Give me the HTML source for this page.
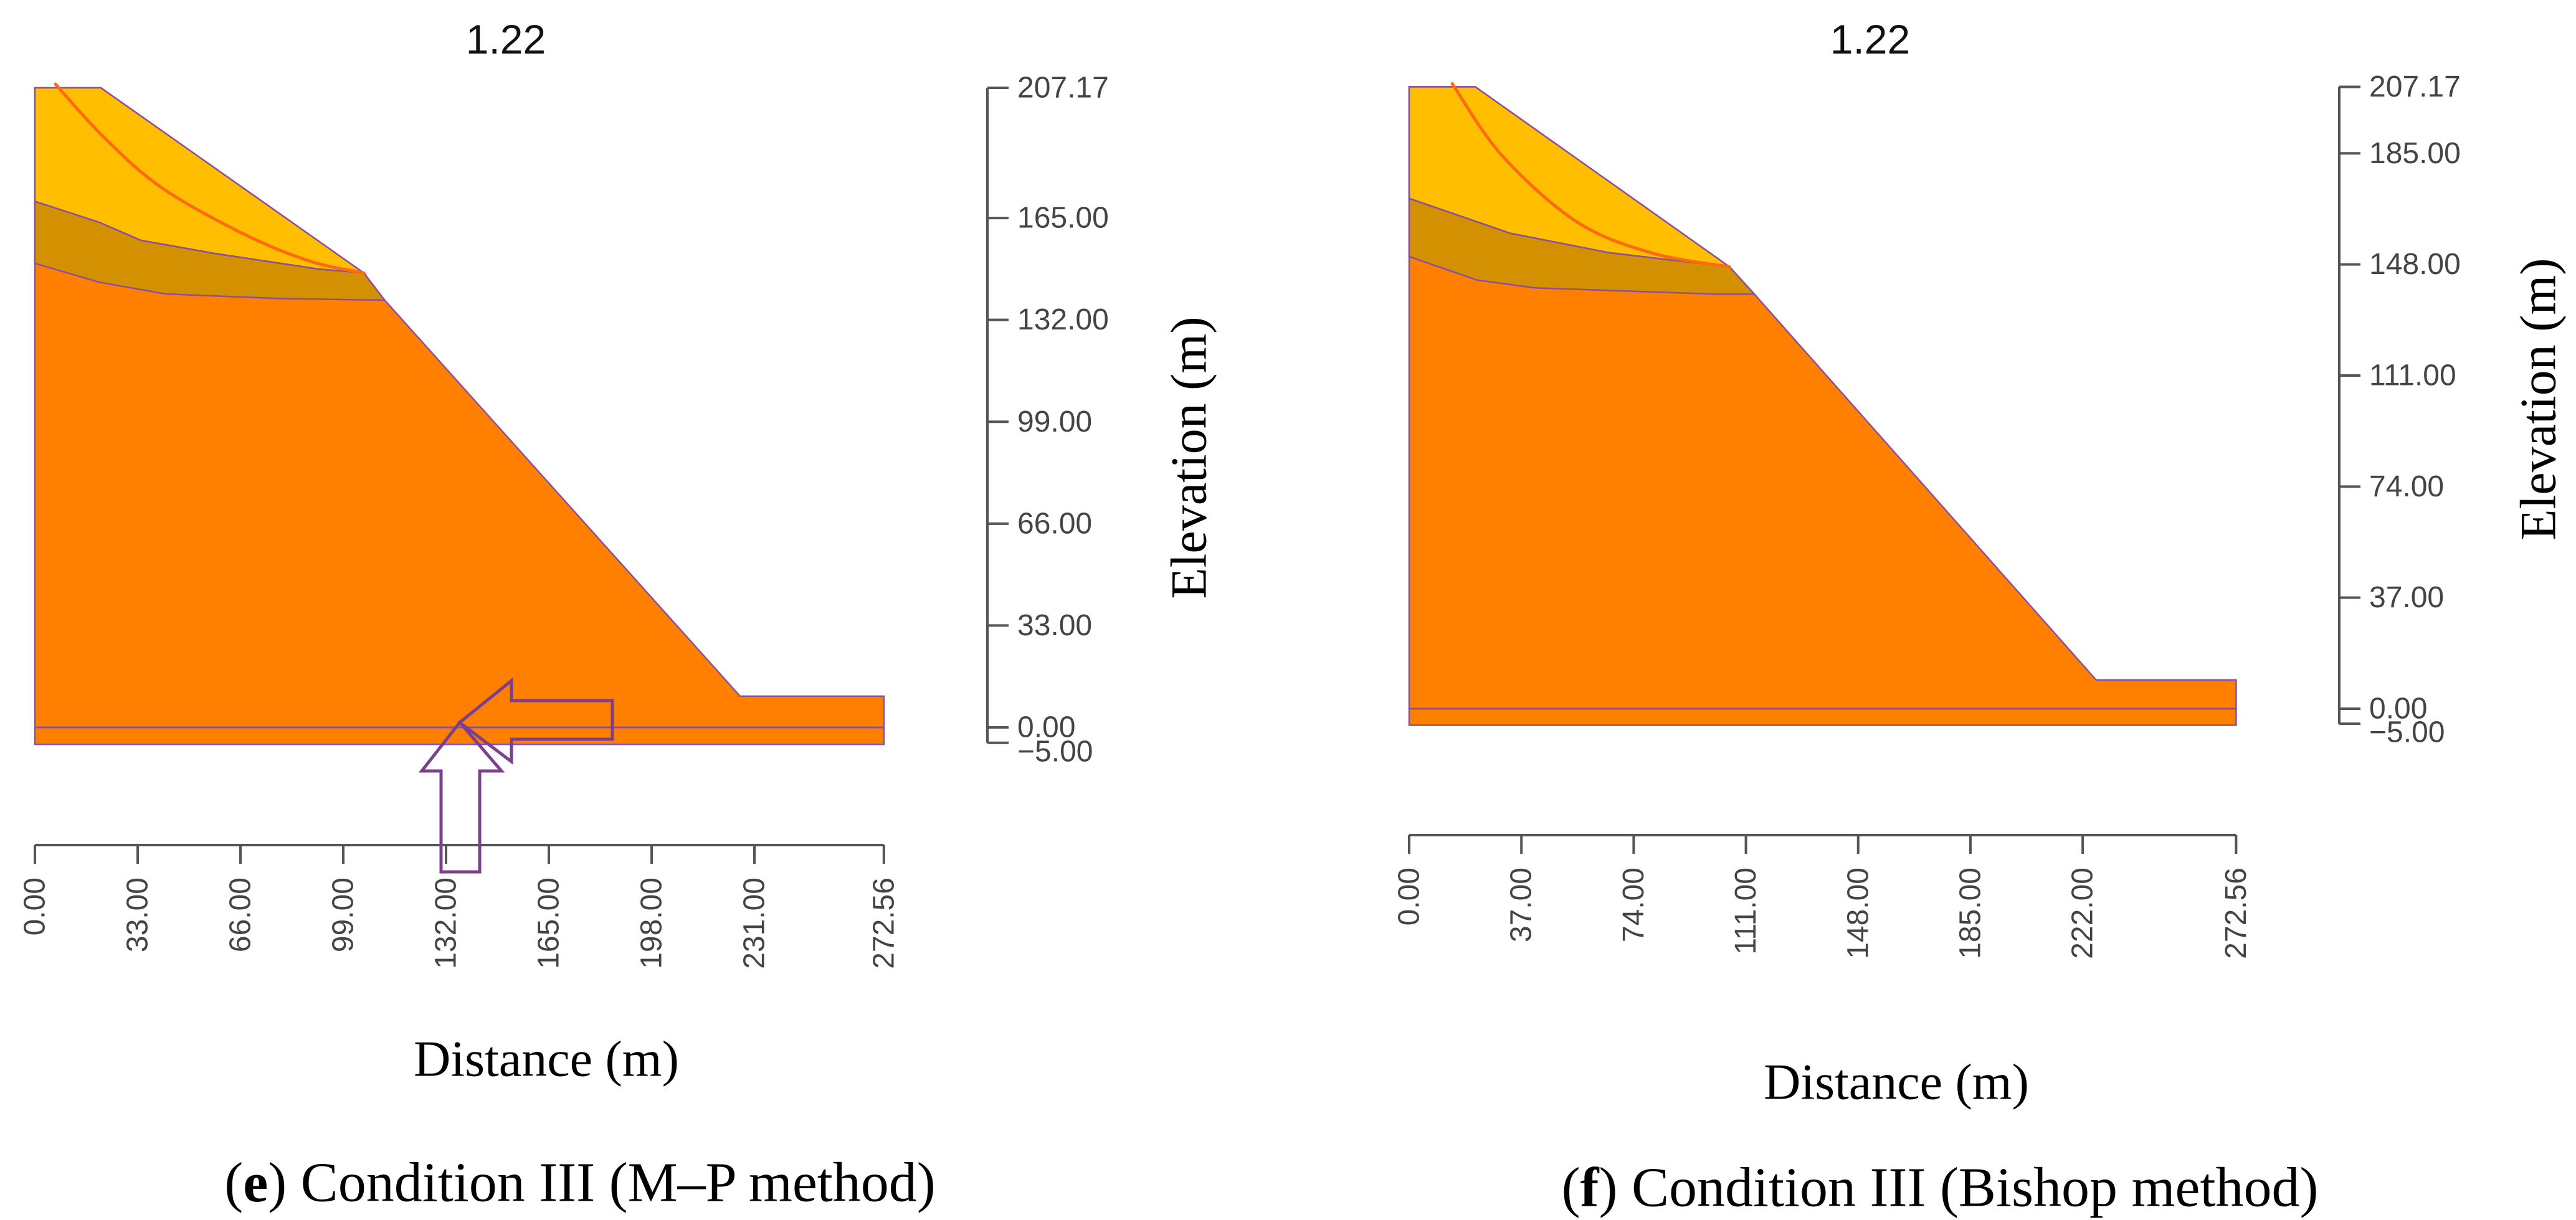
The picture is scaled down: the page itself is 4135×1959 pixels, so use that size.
<!DOCTYPE html>
<html><head><meta charset="utf-8"><style>
html,body{margin:0;padding:0;background:#fff;}
svg{display:block;}
.tk{font-family:"Liberation Sans",sans-serif;font-size:48px;fill:#444;}
.ttl{font-family:"Liberation Sans",sans-serif;font-size:66px;fill:#111;}
.ax{font-family:"Liberation Serif",serif;font-size:82px;fill:#000;}
.cap{font-family:"Liberation Serif",serif;font-size:90px;fill:#000;}
</style></head><body>
<svg id="fig" width="4135" height="1959" viewBox="0 0 4135 1959" xmlns="http://www.w3.org/2000/svg"></svg>
<script>
// ---- data (meters) ----
const xTicksE = [0, 33, 66, 99, 132, 165, 198, 231, 272.56];
const yTicksE = [-5, 0, 33, 66, 99, 132, 165, 207.17];
const xTicksF = [0, 37, 74, 111, 148, 185, 222, 272.56];
const yTicksF = [-5, 0, 37, 74, 111, 148, 185, 207.17];
const groundX = [0, 21.2, 105.6, 112.3, 226.4, 272.56, 272.56, 0];
const groundY = [207.17, 207.17, 147.2, 138.4, 10.1, 10.1, -5.5, -5.5];
const layer1XE = [0, 20.7, 34, 57.9, 91, 105.6];
const layer1YE = [170.4, 163.6, 157.8, 153.5, 148.5, 147.2];
const layer2XE = [0, 20.7, 41.9, 79.1, 112.3];
const layer2YE = [150.3, 144.2, 140.4, 138.9, 138.4];
const slipXE = [6.6, 22, 40.6, 67.1, 88.4, 105.6];
const slipYE = [208.4, 191.3, 174.9, 159.8, 151, 147.2];
const groundXF = [0, 21.8, 105.6, 113.8, 226.4, 272.56, 272.56, 0];
const groundYF = [207.17, 207.17, 147.2, 138.1, 9.6, 9.6, -5.5, -5.5];
const layer1XF = [0, 33.3, 66, 105.6];
const layer1YF = [170, 158.4, 151.9, 147.2];
const layer2XF = [0, 22.4, 41.5, 78.3, 101.5, 113.8];
const layer2YF = [150.6, 142.8, 140.2, 138.9, 138.1, 138.1];
const slipXF = [14.2, 30.6, 55.1, 79.7, 105.6];
const slipYF = [208.2, 184.3, 162.3, 151.9, 147.2];
const fosE = "1.22", fosF = "1.22";

const NS = "http://www.w3.org/2000/svg";
const svg = document.getElementById('fig');
function mk(tag, attrs, parent){
  const e = document.createElementNS(NS, tag);
  for (const k in attrs) e.setAttribute(k, attrs[k]);
  (parent||svg).appendChild(e); return e;
}
function smoothPath(p){
  let d = 'M' + p[0][0].toFixed(1) + ',' + p[0][1].toFixed(1);
  for (let i = 0; i < p.length - 1; i++){
    const p0 = p[i-1] || p[i], p1 = p[i], p2 = p[i+1], p3 = p[i+2] || p2;
    const c1x = p1[0] + (p2[0]-p0[0])/6, c1y = p1[1] + (p2[1]-p0[1])/6;
    const c2x = p2[0] - (p3[0]-p1[0])/6, c2y = p2[1] - (p3[1]-p1[1])/6;
    d += ` C${c1x.toFixed(1)},${c1y.toFixed(1)} ${c2x.toFixed(1)},${c2y.toFixed(1)} ${p2[0].toFixed(1)},${p2[1].toFixed(1)}`;
  }
  return d;
}
function panel(P){
  const g = mk('g', {});
  
  
  const sx = v => P.x0 + v * P.kx;
  const sy = v => P.y0 - v * P.ky;
  const pts = (xs, ys) => xs.map((x,i)=>sx(x).toFixed(1)+','+sy(ys[i]).toFixed(1));
  const gp = mk('polygon', {points: pts(P.gx,P.gy).join(' '), fill:'#FF8000', stroke:'#8A4F9E','stroke-width':2.5}, g);
  
  
  const l1 = pts(P.l1x,P.l1y), l2 = pts(P.l2x,P.l2y);
  const bp = mk('polygon', {points: l1.concat(l2.slice().reverse()).join(' '), fill:'#D39000', stroke:'#8A4F9E','stroke-width':2.5}, g);
  
  
  const yp = mk('polygon', {points: [sx(0)+','+sy(P.gy[0]), sx(P.gx[1])+','+sy(P.gy[1])].concat(l1.slice().reverse()).join(' '), fill:'#FFBF00', stroke:'#8A4F9E','stroke-width':2.5}, g);
  
  
  const zl = mk('line', {x1:sx(0), x2:sx(272.56), y1:sy(0), y2:sy(0), stroke:'#8A4F9E','stroke-width':3}, g);
  
  
  const sp = P.sx.map((x,i)=>[sx(x), sy(P.sy[i])]);
  const sl = mk('path', {d:smoothPath(sp), fill:'none', stroke:'#FF6A10','stroke-width':5,'stroke-linecap':'round'}, g);
  
  
  const xa = mk('g', {}, g);
  
  
  mk('line', {x1:sx(0), x2:sx(272.56), y1:P.xAxisY, y2:P.xAxisY, stroke:'#555','stroke-width':4}, xa);
  P.xt.forEach(v=>{
    mk('line', {x1:sx(v), x2:sx(v), y1:P.xAxisY, y2:P.xAxisY+30, stroke:'#555','stroke-width':4}, xa);
    const t = mk('text', {class:'tk', x:0, y:0, 'text-anchor':'end', 'dominant-baseline':'central', transform:`translate(${sx(v)},${P.xAxisY+52}) rotate(-90)`}, xa);
    
    
    t.textContent = v.toFixed(2);
  });
  const ya = mk('g', {}, g);
  
  
  mk('line', {x1:P.yAxisX, x2:P.yAxisX, y1:sy(207.17), y2:sy(-5), stroke:'#555','stroke-width':4}, ya);
  P.yt.forEach(v=>{
    mk('line', {x1:P.yAxisX, x2:P.yAxisX+34, y1:sy(v), y2:sy(v), stroke:'#555','stroke-width':4}, ya);
    const t = mk('text', {class:'tk', x:P.yAxisX+48, y:sy(v) + (v<0?14:0), 'dominant-baseline':'central'}, ya);
    
    
    t.textContent = v < 0 ? '\u2212' + Math.abs(v).toFixed(2) : v.toFixed(2);
  });
  const tt = mk('text', {class:'ttl', x:P.titleX, y:63, 'text-anchor':'middle','dominant-baseline':'central'}, g);
  
  
  tt.textContent = P.fos;
  const el = mk('text', {class:'ax', x:0, y:0, 'text-anchor':'middle','dominant-baseline':'central', transform:`translate(${P.elevX},${P.elevY}) rotate(-90)`}, g);
  
  
  el.textContent = 'Elevation (m)';
  const dl = mk('text', {class:'ax', x:P.distX, y:P.distY, 'text-anchor':'middle','dominant-baseline':'central'}, g);
  
  
  dl.textContent = 'Distance (m)';
  const cp = mk('text', {class:'cap', x:P.capX, y:P.capY, 'text-anchor':'middle','dominant-baseline':'central'}, g);
  
  
  cp.innerHTML = '(<tspan font-weight="bold">'+P.letter+'</tspan>) '+P.cap;
  return g;
}
panel({name:'panel-e-mp-method', x0:56, kx:5.0, y0:1168, ky:4.957, gx:groundX, gy:groundY,
  l1x:layer1XE, l1y:layer1YE, l2x:layer2XE, l2y:layer2YE, sx:slipXE, sy:slipYE,
  xt:xTicksE, yt:yTicksE, xAxisY:1357, yAxisX:1585, titleX:812, fos:fosE,
  elevX:1908, elevY:735, distX:877, distY:1700, capX:931, capY:1899, letter:'e', cap:'Condition III (M\u2013P method)'});
panel({name:'panel-f-bishop-method', x0:2262, kx:4.87, y0:1138, ky:4.82, gx:groundXF, gy:groundYF,
  l1x:layer1XF, l1y:layer1YF, l2x:layer2XF, l2y:layer2YF, sx:slipXF, sy:slipYF,
  xt:xTicksF, yt:yTicksF, xAxisY:1341, yAxisX:3755, titleX:3002, fos:fosF,
  elevX:4074, elevY:641, distX:3044, distY:1737, capX:3114, capY:1907, letter:'f', cap:'Condition III (Bishop method)'});
const a1 = mk('polygon', {points:'738,1160 821,1093 821,1125 983,1125 983,1187 821,1187 821,1223', fill:'none', stroke:'#7B3F8C','stroke-width':5});


const a2 = mk('polygon', {points:'738,1160 805,1238 770,1238 770,1400 708,1400 708,1238 677,1238', fill:'none', stroke:'#7B3F8C','stroke-width':5});


</script>
</body></html>
